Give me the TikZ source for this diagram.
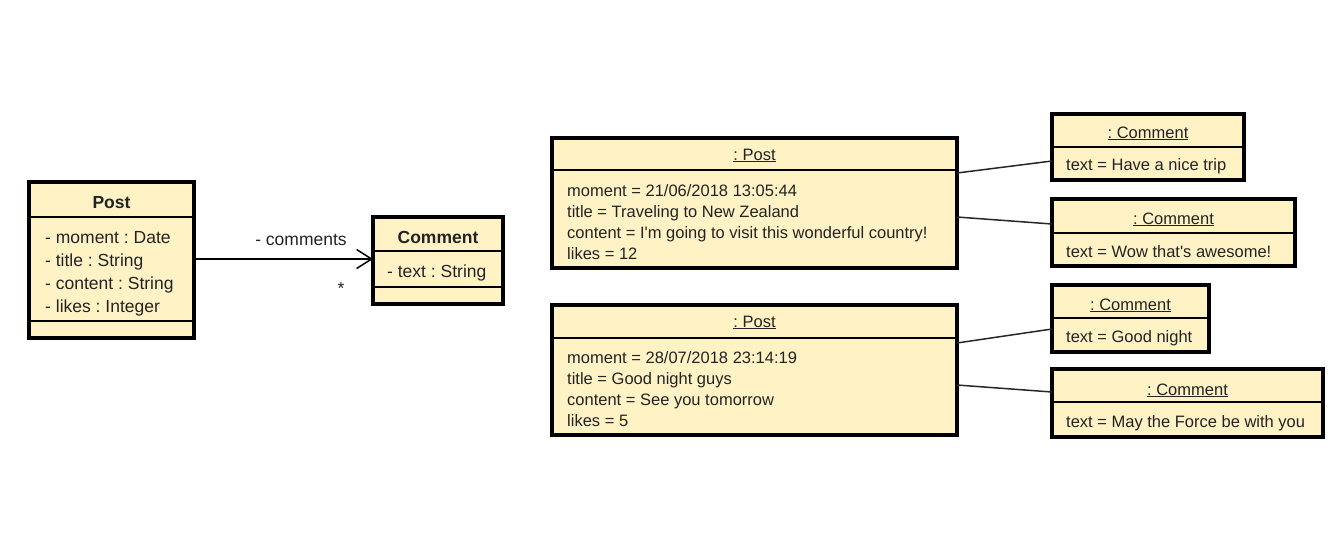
\documentclass[tikz,border=0pt]{standalone}
\usepackage{fontspec}
\setmainfont{Liberation Sans}
\usetikzlibrary{arrows.meta}
\definecolor{umlfill}{RGB}{255,243,198}
\definecolor{umltext}{RGB}{35,35,35}
\frenchspacing
\begin{document}
\begin{tikzpicture}[x=1pt,y=-1pt,
  box/.style={draw=black,fill=umlfill,line width=3.2pt,inner sep=0pt,outer sep=0pt,anchor=north west},
  sep/.style={line width=1.4pt},
  link/.style={line width=1.5pt,draw=black!85},
  assoc/.style={line width=1.5pt,-{Straight Barb[length=15pt,width=19pt,line width=1.5pt]}},
  otxt/.style={inner sep=0pt,anchor=base west,font=\fontsize{16.5}{20}\selectfont,text=umltext},
  ohead/.style={inner sep=0pt,anchor=base,font=\fontsize{16.5}{20}\selectfont,text=umltext},
  ctxt/.style={inner sep=0pt,anchor=base west,font=\fontsize{17.5}{21}\selectfont,text=umltext},
  chead/.style={inner sep=0pt,anchor=base,font=\fontsize{17.5}{21}\selectfont\bfseries,text=umltext}
]
\useasboundingbox (0,0) rectangle (1343,542);

% ---------- class diagram ----------
\node[box,minimum width=165pt,minimum height=156pt] (cpost) at (29,182) {};
\draw[sep] (cpost.west |- 0,217) -- (cpost.east |- 0,217);
\draw[sep] (cpost.west |- 0,321) -- (cpost.east |- 0,321);
\node[chead] (cposttitle) at (111.5,208) {Post};
\node[ctxt] (ca1) at (45,243) {- moment : Date};
\node[ctxt] (ca2) at (45,266) {- title : String};
\node[ctxt] (ca3) at (45,289) {- content : String};
\node[ctxt] (ca4) at (45,312) {- likes : Integer};

\node[box,minimum width=130pt,minimum height=87pt] (ccom) at (373,217) {};
\draw[sep] (ccom.west |- 0,251) -- (ccom.east |- 0,251);
\draw[sep] (ccom.west |- 0,287) -- (ccom.east |- 0,287);
\node[chead] (ccomtitle) at (438,243) {Comment};
\node[ctxt] (cb1) at (387,277) {- text : String};

\draw[assoc] (cpost.east |- 0,259) -- (ccom.west |- 0,259);
\node[ctxt,anchor=base] (rolename) at (301,245) {- comments};
\node[ctxt,anchor=base] (mult) at (341,294) {*};

% ---------- object diagram ----------
% Post 1
\node[box,minimum width=405pt,minimum height=130pt] (p1) at (552,138) {};
\draw[sep] (p1.west |- 0,170) -- (p1.east |- 0,170);
\node[ohead] (p1h) at (754.5,160) {\underline{: Post}};
\node[otxt] (p1a) at (567,196) {moment = 21/06/2018 13:05:44};
\node[otxt] (p1b) at (567,217) {title = Traveling to New Zealand};
\node[otxt] (p1c) at (567,238) {content = I\textquotesingle m going to visit this wonderful country!};
\node[otxt] (p1d) at (567,259) {likes = 12};

% Comment 1
\node[box,minimum width=192pt,minimum height=66pt] (c1) at (1052,114) {};
\draw[sep] (c1.west |- 0,147) -- (c1.east |- 0,147);
\node[ohead] (c1h) at (1148,138) {\underline{: Comment}};
\node[otxt] (c1a) at (1066,170) {text = Have a nice trip};

% Comment 2
\node[box,minimum width=243pt,minimum height=67pt] (c2) at (1052,199) {};
\draw[sep] (c2.west |- 0,233) -- (c2.east |- 0,233);
\node[ohead] (c2h) at (1173.5,224) {\underline{: Comment}};
\node[otxt] (c2a) at (1066,257) {text = Wow that\textquotesingle s awesome!};

\draw[link] (p1.east |- 0,173) -- (c1.west |- 0,161);
\draw[link] (p1.east |- 0,217) -- (c2.west |- 0,224);

% Post 2
\node[box,minimum width=405pt,minimum height=130pt] (p2) at (552,305) {};
\draw[sep] (p2.west |- 0,338) -- (p2.east |- 0,338);
\node[ohead] (p2h) at (754.5,327) {\underline{: Post}};
\node[otxt] (p2a) at (567,363) {moment = 28/07/2018 23:14:19};
\node[otxt] (p2b) at (567,384) {title = Good night guys};
\node[otxt] (p2c) at (567,405) {content = See you tomorrow};
\node[otxt] (p2d) at (567,426) {likes = 5};

% Comment 3
\node[box,minimum width=157pt,minimum height=67pt] (c3) at (1052,285) {};
\draw[sep] (c3.west |- 0,318) -- (c3.east |- 0,318);
\node[ohead] (c3h) at (1130.5,310) {\underline{: Comment}};
\node[otxt] (c3a) at (1066,342) {text = Good night};

% Comment 4
\node[box,minimum width=271pt,minimum height=68pt] (c4) at (1052,369) {};
\draw[sep] (c4.west |- 0,402) -- (c4.east |- 0,402);
\node[ohead] (c4h) at (1187.5,395) {\underline{: Comment}};
\node[otxt] (c4a) at (1066,427) {text = May the Force be with you};

\draw[link] (p2.east |- 0,343) -- (c3.west |- 0,329);
\draw[link] (p2.east |- 0,385) -- (c4.west |- 0,392);
\end{tikzpicture}
\end{document}
